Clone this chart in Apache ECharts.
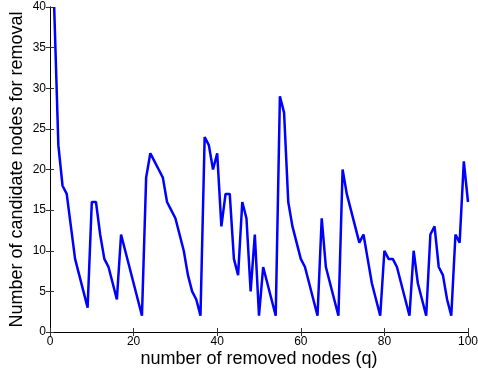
<!DOCTYPE html>
<html>
<head>
<meta charset="utf-8">
<script src="https://cdn.jsdelivr.net/npm/echarts@6/dist/echarts.min.js"></script>
<style>
  html, body { margin: 0; padding: 0; background: #fff; }
  #chart { width: 478px; height: 372px; }
</style>
</head>
<body>
<div id="chart"></div>
<script>
// q = 1..100
const removedNodes = Array.from({ length: 100 }, (_, i) => i + 1);
const candidateNodes = [
  40, 23, 18, 17, 13, 9, 7, 5, 3, 16,
  16, 12, 9, 8, 6, 4, 12, 10, 8, 6,
  4, 2, 19, 22, 21, 20, 19, 16, 15, 14,
  12, 10, 7, 5, 4, 2, 24, 23, 20, 22,
  13, 17, 17, 9, 7, 16, 14, 5, 12, 2,
  8, 6, 4, 2, 29, 27, 16, 13, 11, 9,
  8, 6, 4, 2, 14, 8, 6, 4, 2, 20,
  17, 15, 13, 11, 12, 9, 6, 4, 2, 10,
  9, 9, 8, 6, 4, 2, 10, 6, 4, 2,
  12, 13, 8, 7, 4, 2, 12, 11, 21, 16
];

const font = 'Liberation Sans, Arial, sans-serif';
const tickStyle = { show: true, inside: true, length: 4, lineStyle: { color: '#333', width: 1 } };

const chart = echarts.init(document.getElementById('chart'));
chart.setOption({
  animation: false,
  grid: { left: 50, right: 10, top: 7, bottom: 40, outerBoundsMode: 'none' },
  xAxis: [
    {
      type: 'value', min: 0, max: 100, interval: 20,
      name: 'number of removed nodes (q)', nameLocation: 'middle', nameGap: 18,
      nameMoveOverlap: false,
      nameTextStyle: { fontFamily: font, fontSize: 18, color: '#000' },
      axisLine: { lineStyle: { color: '#000', width: 1 } },
      axisTick: tickStyle,
      axisLabel: { fontFamily: font, fontSize: 12, color: '#000', margin: 4 },
      splitLine: { show: false }
    },
    {
      type: 'value', min: 0, max: 100, interval: 20, position: 'top',
      axisLine: { show: true, lineStyle: { color: '#000', width: 1 } },
      axisTick: tickStyle, axisLabel: { show: false }, splitLine: { show: false }
    }
  ],
  yAxis: [
    {
      type: 'value', min: 0, max: 40, interval: 5,
      name: 'Number of candidate nodes for removal', nameLocation: 'middle', nameGap: 24,
      nameMoveOverlap: false,
      nameTextStyle: { fontFamily: font, fontSize: 18, color: '#000' },
      axisLine: { show: true, lineStyle: { color: '#000', width: 1 } },
      axisTick: tickStyle,
      axisLabel: { fontFamily: font, fontSize: 12, color: '#000', margin: 4 },
      splitLine: { show: false }
    },
    {
      type: 'value', min: 0, max: 40, interval: 5, position: 'right',
      axisLine: { show: true, lineStyle: { color: '#000', width: 1 } },
      axisTick: tickStyle, axisLabel: { show: false }, splitLine: { show: false }
    }
  ],
  series: [
    {
      type: 'line',
      data: removedNodes.map((q, i) => [q, candidateNodes[i]]),
      showSymbol: false,
      lineStyle: { color: '#0000ff', width: 2.5 },
      clip: true
    }
  ]
});
</script>
</body>
</html>
